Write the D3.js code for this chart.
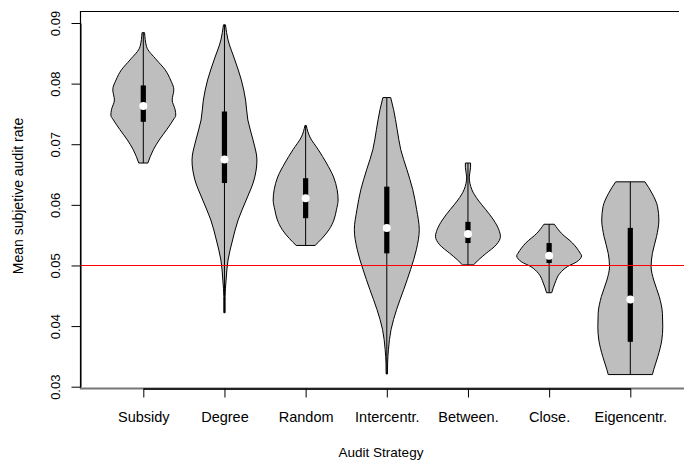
<!DOCTYPE html>
<html>
<head>
<meta charset="utf-8">
<script src="https://cdn.jsdelivr.net/npm/d3@7"></script>
<style>
  body { margin: 0; background: #fff; }
  svg { display: block; font-family: "Liberation Sans", Arial, sans-serif; }
</style>
</head>
<body>
<div id="chart-area"></div>
<script>
// audit strategies, in plotting order
const strategies = ["Subsidy", "Degree", "Random", "Intercentr.", "Between.", "Close.", "Eigencentr."]
const medians = [0.0763, 0.0675, 0.0611, 0.0562, 0.0552, 0.0516, 0.0444]
const q1 = [0.0737, 0.0636, 0.0578, 0.0520, 0.0537, 0.0504, 0.0374]
const q3 = [0.0797, 0.0754, 0.0644, 0.0630, 0.0572, 0.0537, 0.0562]
const yTicks = [0.03, 0.04, 0.05, 0.06, 0.07, 0.08, 0.09]
const refLine = 0.05

// density outlines: [value, relative density]
const densSubsidy = [[0.0884,0.04],[0.0861,0.10],[0.0839,0.41],[0.0823,0.67],[0.0806,0.84],[0.0790,0.94],
  [0.0773,0.89],[0.0757,0.98],[0.0748,1.0],[0.0740,0.92],[0.0724,0.72],[0.0707,0.49],[0.0691,0.31],[0.0669,0.14]]
const densDegree = [[0.0897,0.03],[0.0872,0.11],[0.0839,0.32],[0.0806,0.52],[0.0773,0.65],[0.0740,0.72],
  [0.0707,0.88],[0.0674,1.0],[0.0641,0.91],[0.0608,0.67],[0.0575,0.42],[0.0542,0.25],[0.0509,0.11],
  [0.0476,0.05],[0.0449,0.02],[0.0422,0.02]]
const densRandom = [[0.0731,0.02],[0.0712,0.13],[0.0691,0.39],[0.0669,0.64],[0.0646,0.86],[0.0625,0.97],
  [0.0608,1.0],[0.0592,0.95],[0.0575,0.87],[0.0559,0.72],[0.0545,0.51],[0.0533,0.29]]
const densIntercentr = [[0.0777,0.12],[0.0757,0.21],[0.0724,0.32],[0.0691,0.43],[0.0658,0.62],[0.0625,0.80],
  [0.0592,0.92],[0.0559,1.0],[0.0526,0.91],[0.0493,0.73],[0.0460,0.52],[0.0427,0.30],[0.0394,0.13],
  [0.0361,0.05],[0.0339,0.025],[0.0321,0.02]]
const densBetween = [[0.0669,0.08],[0.0662,0.08],[0.0646,0.04],[0.0625,0.12],[0.0608,0.31],[0.0592,0.55],
  [0.0575,0.79],[0.0559,0.95],[0.0548,1.0],[0.0534,0.87],[0.0520,0.56],[0.0509,0.32],[0.0501,0.17]]
const densClose = [[0.0568,0.16],[0.0553,0.38],[0.0537,0.72],[0.0520,0.96],[0.0516,1.0],[0.0506,0.85],
  [0.0498,0.56],[0.0487,0.33],[0.0471,0.18],[0.0455,0.08]]
const densEigencentr = [[0.0638,0.45],[0.0619,0.67],[0.0597,0.84],[0.0575,0.88],[0.0548,0.81],[0.0520,0.68],
  [0.0498,0.64],[0.0476,0.72],[0.0449,0.89],[0.0421,0.99],[0.0399,1.0],[0.0377,0.97],[0.0350,0.85],
  [0.0328,0.72],[0.0320,0.68]]
const densities = [densSubsidy, densDegree, densRandom, densIntercentr, densBetween, densClose, densEigencentr]

const WIDTH = 684
const HEIGHT = 461
const PLOT = { LEFT: 80, TOP: 11, BOTTOM: 388 }

const svg = d3.select("#chart-area").append("svg")
  .attr("width", WIDTH)
  .attr("height", HEIGHT)

const x = d3.scaleLinear().domain([1, 7]).range([143.3, 630.3])
const y = d3.scaleLinear().domain([0.03, 0.09]).range([386.7, 23])
// half width of a violin at density 1 (0.4 of the category step, like vioplot)
const halfW = (x(2) - x(1)) * 0.4

// frame
svg.append("line")
  .attr("x1", PLOT.LEFT).attr("x2", 679)
  .attr("y1", PLOT.TOP + 0.5).attr("y2", PLOT.TOP + 0.5)
  .attr("stroke", "#000").attr("stroke-width", 1.2)
svg.append("line")
  .attr("x1", PLOT.LEFT + 0.5).attr("x2", PLOT.LEFT + 0.5)
  .attr("y1", PLOT.TOP).attr("y2", PLOT.BOTTOM + 1)
  .attr("stroke", "#000").attr("stroke-width", 1.2)
svg.append("line")
  .attr("x1", PLOT.LEFT).attr("x2", WIDTH)
  .attr("y1", PLOT.BOTTOM + 0.5).attr("y2", PLOT.BOTTOM + 0.5)
  .attr("stroke", "#777").attr("stroke-width", 2)

// violins
const g = svg.append("g")

densities.forEach((dens, i) => {
  const cx = x(i + 1)
  const area = d3.area()
    .y(d => y(d[0]))
    .x0(d => cx - d[1] * halfW)
    .x1(d => cx + d[1] * halfW)
    .curve(d3.curveMonotoneY)

  g.append("path")
    .datum(dens)
    .attr("d", area)
    .attr("fill", "#bebebe")
    .attr("stroke", "#000")
    .attr("stroke-width", 1)

  // whisker from min to max
  g.append("line")
    .attr("x1", cx).attr("x2", cx)
    .attr("y1", y(dens[0][0])).attr("y2", y(dens[dens.length - 1][0]))
    .attr("stroke", "#000").attr("stroke-width", 1)

  // box
  g.append("rect")
    .attr("x", cx - 2.6)
    .attr("width", 5.2)
    .attr("y", y(q3[i]))
    .attr("height", y(q1[i]) - y(q3[i]))
    .attr("fill", "#000")

  g.append("circle")
    .attr("cx", cx)
    .attr("cy", y(medians[i]))
    .attr("r", 4)
    .attr("fill", "#fff")
})

// reference line
const refY = Math.round(y(refLine)) + 0.5
svg.append("line")
  .attr("x1", PLOT.LEFT).attr("x2", WIDTH)
  .attr("y1", refY).attr("y2", refY)
  .attr("stroke", "#ff0000").attr("stroke-width", 1)
  .attr("shape-rendering", "crispEdges")

// axes
const xAxisCall = d3.axisBottom(x)
  .tickValues(d3.range(1, strategies.length + 1))
  .tickFormat(d => strategies[d - 1])
  .tickSize(9)
  .tickSizeOuter(0)

const xAxis = svg.append("g")
  .attr("transform", `translate(0, ${PLOT.BOTTOM + 0.5})`)
  .call(xAxisCall)
xAxis.select(".domain").attr("stroke", "#222").attr("stroke-width", 2)
xAxis.selectAll(".tick line").attr("stroke", "#000")
xAxis.selectAll("text")
  .attr("y", 33)
  .attr("dy", 0)
  .attr("fill", "#000")
  .style("font-size", "14.5px")
  .style("font-family", "Liberation Sans, Arial, sans-serif")

const yAxisCall = d3.axisLeft(y)
  .tickValues(yTicks)
  .tickFormat(d3.format(".2f"))
  .tickSize(9)
  .tickSizeOuter(0)

const yAxis = svg.append("g")
  .attr("transform", `translate(${PLOT.LEFT + 0.5}, 0)`)
  .call(yAxisCall)
yAxis.select(".domain").attr("stroke", "#000")
yAxis.selectAll(".tick line").attr("stroke", "#000")
yAxis.selectAll("text")
  .attr("x", 0)
  .attr("y", -21)
  .attr("dy", 0)
  .attr("text-anchor", "middle")
  .attr("transform", "rotate(-90)")
  .attr("fill", "#000")
  .style("font-size", "13px")
  .style("font-family", "Liberation Sans, Arial, sans-serif")

// axis titles
svg.append("text")
  .attr("x", 381)
  .attr("y", 457)
  .attr("text-anchor", "middle")
  .style("font-size", "13.5px")
  .text("Audit Strategy")

svg.append("text")
  .attr("transform", "translate(23, 196) rotate(-90)")
  .attr("text-anchor", "middle")
  .style("font-size", "14px")
  .text("Mean subjetive audit rate")
</script>
</body>
</html>
